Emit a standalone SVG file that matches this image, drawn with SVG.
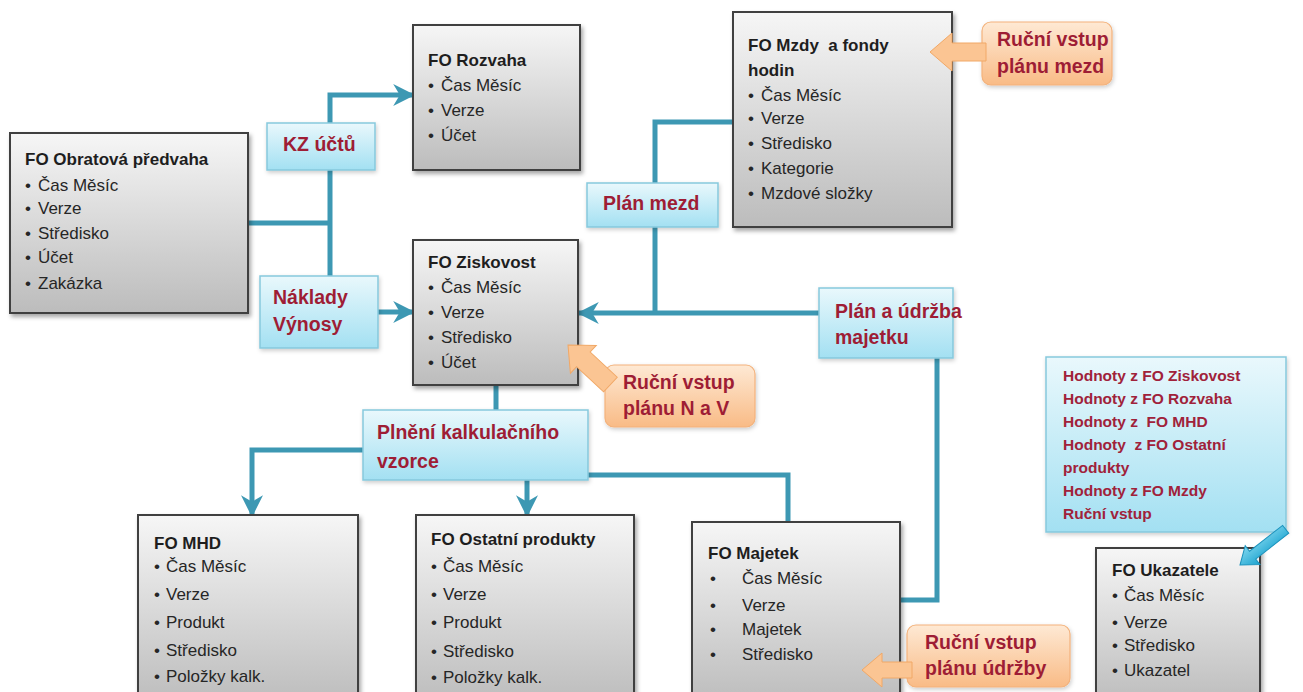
<svg xmlns="http://www.w3.org/2000/svg" width="1303" height="692" viewBox="0 0 1303 692">
<defs>
<linearGradient id="gBox" x1="0" y1="0" x2="0" y2="1"><stop offset="0" stop-color="#f6f6f6"/><stop offset="1" stop-color="#bcbcbc"/></linearGradient>
<linearGradient id="gBlue" x1="0" y1="0" x2="0" y2="1"><stop offset="0" stop-color="#e9f8fc"/><stop offset="1" stop-color="#a3e0f2"/></linearGradient>
<linearGradient id="gOr" x1="0" y1="0" x2="0" y2="1"><stop offset="0" stop-color="#fee9d4"/><stop offset="1" stop-color="#f9bb86"/></linearGradient>
<linearGradient id="gCy" x1="0" y1="0" x2="0" y2="1"><stop offset="0" stop-color="#7fd6ee"/><stop offset="1" stop-color="#1aa3cf"/></linearGradient>
<filter id="sh" x="-10%" y="-10%" width="130%" height="130%"><feDropShadow dx="2" dy="3" stdDeviation="2" flood-color="#000" flood-opacity="0.35"/></filter>
<filter id="sh2" x="-10%" y="-10%" width="130%" height="130%"><feDropShadow dx="1" dy="2" stdDeviation="2" flood-color="#000" flood-opacity="0.2"/></filter>
<marker id="ah" viewBox="0 0 10 10" refX="9" refY="5" markerWidth="4.4" markerHeight="4.4" orient="auto" markerUnits="strokeWidth"><path d="M0,0 L10,5 L0,10 L3,5 z" fill="#3d98b3"/></marker>
<style>
.box{fill:url(#gBox);stroke:#404040;stroke-width:2;filter:url(#sh)}
.lbl{fill:url(#gBlue);stroke:#86c9dd;stroke-width:1.5;filter:url(#sh2)}
.call{fill:url(#gOr);stroke:#f3b27c;stroke-width:1.2;filter:url(#sh2)}
.oarr{fill:#fbc593;stroke:#f1a866;stroke-width:1}
.t{font-family:"Liberation Sans",Arial,sans-serif;font-size:17px;fill:#262626}
.tb{font-family:"Liberation Sans",Arial,sans-serif;font-size:17px;font-weight:700;fill:#1e1e1e;white-space:pre}
.r{font-family:"Liberation Sans",Arial,sans-serif;font-size:19.5px;font-weight:700;fill:#9e1d35}
.rs{font-family:"Liberation Sans",Arial,sans-serif;font-size:15.5px;font-weight:700;fill:#a0223a;white-space:pre}
.ln{fill:none;stroke:#3d98b3;stroke-width:5}
</style>
</defs>
<rect width="1303" height="692" fill="#ffffff"/>

<g id="connectors">
<path class="ln" d="M248,223 H330"/>
<path class="ln" d="M330,276 V95 H413" marker-end="url(#ah)"/>
<path class="ln" d="M378,312 H413" marker-end="url(#ah)"/>
<path class="ln" d="M819,313 H579" marker-end="url(#ah)"/>
<path class="ln" d="M655,313 V227"/>
<path class="ln" d="M655,183 V122 H733"/>
<path class="ln" d="M937,358 V600 H900"/>
<path class="ln" d="M496,385 V410"/>
<path class="ln" d="M363,450 H252 V515" marker-end="url(#ah)"/>
<path class="ln" d="M527,480 V515" marker-end="url(#ah)"/>
<path class="ln" d="M588,475 H788 V522"/>
</g>

<g id="fo-obratova">
<rect class="box" x="10" y="133" width="238" height="180"/>
<text class="tb" x="25" y="165">FO Obratová předvaha</text>
<text class="t"><tspan x="25" y="191">•</tspan><tspan x="38" y="191">Čas Měsíc</tspan></text>
<text class="t"><tspan x="25" y="214">•</tspan><tspan x="38" y="214">Verze</tspan></text>
<text class="t"><tspan x="25" y="239">•</tspan><tspan x="38" y="239">Středisko</tspan></text>
<text class="t"><tspan x="25" y="263">•</tspan><tspan x="38" y="263">Účet</tspan></text>
<text class="t"><tspan x="25" y="289">•</tspan><tspan x="38" y="289">Zakázka</tspan></text>
</g>

<g id="fo-rozvaha">
<rect class="box" x="413" y="25" width="167" height="145"/>
<text class="tb" x="428" y="66">FO Rozvaha</text>
<text class="t"><tspan x="428" y="91">•</tspan><tspan x="441" y="91">Čas Měsíc</tspan></text>
<text class="t"><tspan x="428" y="116">•</tspan><tspan x="441" y="116">Verze</tspan></text>
<text class="t"><tspan x="428" y="141">•</tspan><tspan x="441" y="141">Účet</tspan></text>
</g>

<g id="fo-mzdy">
<rect class="box" x="733" y="12" width="219" height="215"/>
<text class="tb" x="748" y="51">FO Mzdy  a fondy</text>
<text class="tb" x="748" y="76">hodin</text>
<text class="t"><tspan x="748" y="101">•</tspan><tspan x="761" y="101">Čas Měsíc</tspan></text>
<text class="t"><tspan x="748" y="124">•</tspan><tspan x="761" y="124">Verze</tspan></text>
<text class="t"><tspan x="748" y="149">•</tspan><tspan x="761" y="149">Středisko</tspan></text>
<text class="t"><tspan x="748" y="174">•</tspan><tspan x="761" y="174">Kategorie</tspan></text>
<text class="t"><tspan x="748" y="199">•</tspan><tspan x="761" y="199">Mzdové složky</tspan></text>
</g>

<g id="fo-ziskovost">
<rect class="box" x="413" y="240" width="165" height="145"/>
<text class="tb" x="428" y="268">FO Ziskovost</text>
<text class="t"><tspan x="428" y="293">•</tspan><tspan x="441" y="293">Čas Měsíc</tspan></text>
<text class="t"><tspan x="428" y="318">•</tspan><tspan x="441" y="318">Verze</tspan></text>
<text class="t"><tspan x="428" y="343">•</tspan><tspan x="441" y="343">Středisko</tspan></text>
<text class="t"><tspan x="428" y="368">•</tspan><tspan x="441" y="368">Účet</tspan></text>
</g>

<g id="fo-mhd">
<rect class="box" x="138" y="515" width="220" height="190"/>
<text class="tb" x="154" y="549">FO MHD</text>
<text class="t"><tspan x="154" y="572">•</tspan><tspan x="166" y="572">Čas Měsíc</tspan></text>
<text class="t"><tspan x="154" y="600">•</tspan><tspan x="166" y="600">Verze</tspan></text>
<text class="t"><tspan x="154" y="628">•</tspan><tspan x="166" y="628">Produkt</tspan></text>
<text class="t"><tspan x="154" y="656">•</tspan><tspan x="166" y="656">Středisko</tspan></text>
<text class="t"><tspan x="154" y="682">•</tspan><tspan x="166" y="682">Položky kalk.</tspan></text>
</g>

<g id="fo-ostatni">
<rect class="box" x="416" y="515" width="218" height="190"/>
<text class="tb" x="431" y="545">FO Ostatní produkty</text>
<text class="t"><tspan x="431" y="572">•</tspan><tspan x="443" y="572">Čas Měsíc</tspan></text>
<text class="t"><tspan x="431" y="600">•</tspan><tspan x="443" y="600">Verze</tspan></text>
<text class="t"><tspan x="431" y="628">•</tspan><tspan x="443" y="628">Produkt</tspan></text>
<text class="t"><tspan x="431" y="657">•</tspan><tspan x="443" y="657">Středisko</tspan></text>
<text class="t"><tspan x="431" y="683">•</tspan><tspan x="443" y="683">Položky kalk.</tspan></text>
</g>

<g id="fo-majetek">
<rect class="box" x="692" y="522" width="208" height="183"/>
<text class="tb" x="708" y="559">FO Majetek</text>
<text class="t"><tspan x="710" y="584">•</tspan><tspan x="742" y="584">Čas Měsíc</tspan></text>
<text class="t"><tspan x="710" y="611">•</tspan><tspan x="742" y="611">Verze</tspan></text>
<text class="t"><tspan x="710" y="635">•</tspan><tspan x="742" y="635">Majetek</tspan></text>
<text class="t"><tspan x="710" y="660">•</tspan><tspan x="742" y="660">Středisko</tspan></text>
</g>

<g id="fo-ukazatele">
<rect class="box" x="1096" y="548" width="164" height="157"/>
<text class="tb" x="1112" y="576">FO Ukazatele</text>
<text class="t"><tspan x="1112" y="601">•</tspan><tspan x="1124" y="601">Čas Měsíc</tspan></text>
<text class="t"><tspan x="1112" y="628">•</tspan><tspan x="1124" y="628">Verze</tspan></text>
<text class="t"><tspan x="1112" y="651">•</tspan><tspan x="1124" y="651">Středisko</tspan></text>
<text class="t"><tspan x="1112" y="676">•</tspan><tspan x="1124" y="676">Ukazatel</tspan></text>
</g>

<g id="lbl-kz">
<rect class="lbl" x="267" y="123" width="108" height="47"/>
<text class="r" x="283" y="151">KZ účtů</text>
</g>

<g id="lbl-naklady">
<rect class="lbl" x="260" y="276" width="118" height="72"/>
<text class="r" x="273" y="304">Náklady</text>
<text class="r" x="273" y="331">Výnosy</text>
</g>

<g id="lbl-plan-mezd">
<rect class="lbl" x="587" y="183" width="131" height="44"/>
<text class="r" x="603" y="210">Plán mezd</text>
</g>

<g id="lbl-plan-majetku">
<rect class="lbl" x="819" y="288" width="134" height="70"/>
<text class="r" x="835" y="318">Plán a údržba</text>
<text class="r" x="835" y="344">majetku</text>
</g>

<g id="lbl-plneni">
<rect class="lbl" x="363" y="410" width="225" height="70"/>
<text class="r" x="377" y="439">Plnění kalkulačního</text>
<text class="r" x="377" y="468">vzorce</text>
</g>

<g id="lbl-hodnoty">
<rect class="lbl" x="1046" y="357" width="240" height="175"/>
<text class="rs" x="1063" y="381">Hodnoty z FO Ziskovost</text>
<text class="rs" x="1063" y="404">Hodnoty z FO Rozvaha</text>
<text class="rs" x="1063" y="427">Hodnoty z  FO MHD</text>
<text class="rs" x="1063" y="450">Hodnoty  z FO Ostatní</text>
<text class="rs" x="1063" y="473">produkty</text>
<text class="rs" x="1063" y="496">Hodnoty z FO Mzdy</text>
<text class="rs" x="1063" y="519">Ruční vstup</text>
</g>

<g id="arrow-ukazatele">
<polygon transform="translate(1240,565) rotate(-38)" points="0,0 16,-12 16,-5 58,-5 58,5 16,5 16,12" fill="url(#gCy)" stroke="#1b93bd" stroke-width="1"/>
</g>

<g id="call-mezd">
<rect class="call" x="982" y="22" width="130" height="63" rx="9"/>
<polygon class="oarr" transform="translate(930,52)" points="0,0 22,-19 22,-9 56,-9 56,9 22,9 22,19"/>
<text class="r" x="997" y="46">Ruční vstup</text>
<text class="r" x="997" y="73">plánu mezd</text>
</g>

<g id="call-nv">
<rect class="call" x="605" y="365" width="150" height="62" rx="9"/>
<polygon class="oarr" transform="translate(568,345) rotate(43)" points="0,0 21,-19 21,-10 58,-10 58,10 21,10 21,19"/>
<text class="r" x="623" y="389">Ruční vstup</text>
<text class="r" x="623" y="415">plánu N a V</text>
</g>

<g id="call-udrzby">
<rect class="call" x="907" y="625" width="163" height="62" rx="9"/>
<polygon class="oarr" transform="translate(862,670)" points="0,0 20,-17 20,-8 50,-8 50,8 20,8 20,17"/>
<text class="r" x="925" y="649">Ruční vstup</text>
<text class="r" x="925" y="675">plánu údržby</text>
</g>
</svg>
